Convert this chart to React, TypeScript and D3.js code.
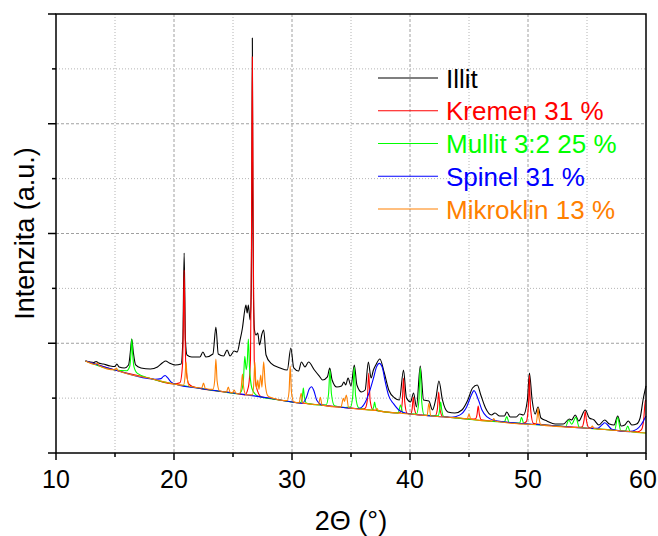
import React from "react";
import * as d3 from "d3";

const xMajorTicks = [10, 20, 30, 40, 50, 60];
const xMinorTicks = [15, 25, 35, 45, 55];
const yMajorTicks = [0, 1000, 2000, 3000, 4000];
const yMinorTicks = [500, 1500, 2500, 3500];

const illit: [number, number][] = [
  [12.5, 838], [13.2, 825], [13.4, 834], [13.6, 820], [14.0, 811], [14.6, 793], [15.0, 788], [15.15, 811], [15.35, 784],
  [15.8, 775], [16.15, 802], [16.3, 920], [16.42, 1039], [16.55, 920], [16.75, 802], [17.2, 775], [18.0, 765], [18.6, 784],
  [19.0, 820], [19.3, 838], [19.6, 820], [20.1, 802], [20.6, 811], [20.75, 1030], [20.86, 1823], [20.97, 1030], [21.1, 893],
  [21.5, 875], [22.2, 875], [22.45, 920], [22.7, 875], [23.3, 902], [23.55, 1148], [23.75, 902], [24.2, 884], [24.5, 939],
  [24.75, 884], [25.1, 929], [25.35, 920], [25.6, 1030], [25.8, 1139], [26.0, 1303], [26.1, 1349], [26.2, 1276], [26.3, 1349],
  [26.45, 1212], [26.55, 1500], [26.6, 2400], [26.64, 3781], [26.68, 2400], [26.74, 1400], [26.82, 1121], [26.95, 1075],
  [27.1, 1093], [27.25, 984], [27.45, 1084], [27.6, 1121], [27.8, 893], [28.2, 820], [29.0, 775], [29.6, 756], [29.9, 957],
  [30.15, 775], [30.55, 747], [30.8, 829], [31.1, 784], [31.4, 829], [31.9, 756], [32.3, 702], [32.6, 665], [33.0, 693],
  [33.2, 775], [33.4, 665], [33.8, 601], [34.2, 611], [34.4, 647], [34.55, 620], [34.75, 683], [35.0, 611], [35.28, 802],
  [35.5, 620], [35.9, 556], [36.2, 574], [36.47, 829], [36.7, 683], [36.9, 756], [37.1, 802], [37.45, 857], [37.8, 738],
  [38.2, 574], [38.7, 501], [39.1, 483], [39.45, 756], [39.7, 501], [40.05, 465], [40.3, 547], [40.55, 419], [40.87, 793],
  [41.15, 483], [41.6, 474], [41.9, 392], [42.2, 501], [42.45, 656], [42.75, 483], [43.2, 374], [43.8, 364], [44.4, 392],
  [44.9, 483], [45.3, 592], [45.7, 620], [46.0, 528], [46.4, 410], [46.9, 346], [47.2, 364], [47.6, 337], [48.0, 337],
  [48.2, 374], [48.5, 328], [49.0, 328], [49.3, 355], [49.6, 346], [49.95, 483], [50.12, 729], [50.35, 483], [50.6, 355],
  [50.85, 419], [51.1, 319], [51.6, 292], [52.3, 264], [53.0, 264], [53.5, 310], [53.7, 301], [54.0, 346], [54.3, 292],
  [54.85, 392], [55.2, 319], [55.6, 301], [56.0, 255], [56.5, 301], [56.9, 264], [57.3, 255], [57.6, 337], [57.9, 246],
  [58.2, 255], [58.5, 292], [58.8, 255], [59.2, 264], [59.5, 319], [59.75, 483], [60.0, 611],
];

const kremen: [number, number][] = [
  [12.5, 838], [15, 756], [18, 679], [20, 629], [20.5, 640], [20.72, 800], [20.79, 1140], [20.86, 1667], [20.93, 1140],
  [21.0, 800], [21.25, 630], [21.6, 605], [23, 574], [25, 547], [26, 529], [26.3, 600], [26.48, 850], [26.56, 1800],
  [26.64, 3611], [26.72, 1800], [26.8, 850], [26.98, 600], [27.4, 512], [28, 501], [30, 465], [32, 442], [34, 419],
  [36, 402], [36.2, 408], [36.38, 480], [36.5, 729], [36.62, 480], [36.85, 395], [38, 374], [39, 364], [39.2, 372],
  [39.35, 470], [39.45, 683], [39.55, 470], [39.75, 362], [40.05, 356], [40.18, 400], [40.28, 510], [40.38, 400],
  [40.6, 348], [41.5, 341], [42.15, 342], [42.32, 400], [42.43, 556], [42.54, 400], [42.75, 335], [44, 319], [45.3, 310],
  [45.55, 312], [45.68, 350], [45.78, 428], [45.88, 350], [46.05, 303], [48, 282], [49.5, 268], [49.85, 285], [50.0, 380],
  [50.07, 520], [50.12, 711], [50.17, 520], [50.24, 380], [50.45, 270], [52, 251], [54.3, 235], [54.6, 240], [54.75, 300],
  [54.85, 378], [54.95, 300], [55.15, 232], [57, 210], [59.3, 194], [59.6, 210], [59.8, 300], [59.95, 483], [60, 470],
];

const mullit: [number, number][] = [
  [12.5, 838], [15, 756], [16.0, 750], [16.25, 790], [16.35, 900], [16.42, 1039], [16.5, 900], [16.6, 790], [16.9, 725],
  [18, 679], [20, 629], [22, 592], [24, 560], [25.5, 540], [25.7, 560], [25.88, 660], [26.0, 880], [26.12, 760],
  [26.22, 850], [26.3, 1039], [26.4, 780], [26.6, 590], [26.9, 535], [27.2, 515], [29, 483], [30.5, 458], [30.7, 458],
  [30.88, 510], [30.96, 592], [31.05, 510], [31.25, 452], [32.5, 437], [32.9, 440], [33.1, 540], [33.22, 756],
  [33.34, 540], [33.6, 430], [34.5, 415], [34.95, 418], [35.15, 520], [35.27, 784], [35.39, 520], [35.65, 410],
  [36.5, 393], [36.8, 392], [36.92, 420], [37.0, 465], [37.08, 420], [37.25, 386], [39.0, 366], [39.2, 437], [39.4, 362],
  [40.55, 355], [40.75, 470], [40.87, 775], [40.99, 470], [41.2, 345], [42.4, 340], [42.52, 400], [42.6, 465],
  [42.68, 400], [42.85, 333], [44, 319], [48.0, 284], [48.2, 331], [48.4, 278], [49.3, 272], [49.45, 325], [49.65, 267],
  [52, 251], [53.2, 242], [53.45, 301], [53.7, 262], [54.05, 325], [54.35, 234], [56.5, 215], [57.35, 210], [57.6, 325],
  [57.85, 205], [58.25, 199], [58.45, 246], [58.65, 196], [60, 182],
];

const spinel: [number, number][] = [
  [12.5, 838], [15, 756], [18.4, 672], [18.9, 678], [19.1, 698], [19.25, 706], [19.45, 686], [19.8, 642], [20.3, 622],
  [22, 592], [25, 547], [28, 501], [30, 465], [30.8, 453], [31.2, 500], [31.45, 580], [31.65, 604], [31.85, 570],
  [32.1, 480], [32.5, 440], [34, 419], [35.5, 405], [35.8, 410], [36.2, 460], [36.6, 570], [36.9, 680], [37.15, 780],
  [37.4, 817], [37.65, 780], [37.9, 650], [38.2, 520], [38.6, 450], [39.2, 380], [39.8, 360], [41, 346], [43, 328],
  [43.5, 325], [44.2, 345], [44.8, 420], [45.2, 528], [45.42, 568], [45.8, 483], [46.1, 392], [46.5, 331], [47.2, 295],
  [49, 273], [52, 251], [55.5, 224], [55.9, 225], [56.3, 260], [56.5, 276], [56.75, 255], [57.1, 215], [58.6, 195],
  [59.2, 215], [59.6, 260], [60, 337],
];

const mikroklin: [number, number][] = [
  [12.5, 838], [13.35, 806], [13.5, 820], [13.65, 796], [15.0, 758], [15.12, 775], [15.25, 752], [18, 679], [20, 629],
  [20.8, 618], [20.93, 690], [21.02, 829], [21.11, 690], [21.3, 608], [22.35, 592], [22.5, 638], [22.65, 588],
  [23.3, 580], [23.45, 660], [23.55, 857], [23.65, 660], [23.85, 568], [24.45, 557], [24.6, 601], [24.75, 553],
  [24.95, 548], [25.1, 574], [25.25, 545], [25.55, 540], [25.7, 600], [25.8, 720], [25.9, 600], [26.1, 530],
  [26.65, 530], [26.77, 650], [26.85, 832], [26.93, 650], [27.0, 590], [27.1, 665], [27.2, 580], [27.35, 711],
  [27.45, 600], [27.6, 832], [27.72, 640], [27.95, 520], [28.4, 498], [29.3, 478], [29.6, 478], [29.75, 560],
  [29.85, 793], [29.95, 560], [30.15, 466], [30.6, 458], [30.78, 545], [30.9, 458], [32.25, 440], [32.4, 508],
  [32.55, 436], [34.15, 418], [34.35, 498], [34.45, 470], [34.6, 528], [34.8, 412], [36.5, 393], [37.05, 387],
  [37.2, 405], [37.35, 384], [39, 364], [41.3, 343], [41.45, 342], [41.6, 453], [41.75, 339], [43, 328], [44.8, 312],
  [44.85, 311], [45.0, 355], [45.15, 309], [46.95, 290], [47.1, 315], [47.25, 289], [50.5, 260], [50.65, 261],
  [50.78, 330], [50.85, 410], [50.92, 330], [51.1, 256], [54, 232], [55.3, 226], [55.45, 245], [55.6, 224], [57, 210],
  [60, 182],
];

const seriesNames = ["Illit", "Kremen 31 %", "Mullit 3:2 25 %", "Spinel 31 %", "Mikroklin 13 %"];
const seriesColors = ["#000000", "#ff0000", "#00ff00", "#0000ff", "#ff8000"];
const seriesData = [illit, kremen, mullit, spinel, mikroklin];

const W = 658;
const H = 536;
const M = { left: 56, right: 646, top: 14, bottom: 453 };
const FONT = "'Liberation Sans', Arial, Helvetica, sans-serif";

export default function App() {
  const x = d3.scaleLinear().domain([10, 60]).range([M.left, M.right]);
  const y = d3.scaleLinear().domain([0, 4000]).range([M.bottom, M.top]);
  const line = d3
    .line<[number, number]>()
    .x((d) => x(d[0]))
    .y((d) => y(d[1]))
    .curve(d3.curveMonotoneX);

  const legendX0 = 378;
  const legendX1 = 438;
  const legendTextX = 446;
  const legendY0 = 78;
  const legendStep = 32.75;

  return (
    <svg
      width={W}
      height={H}
      style={{ position: "absolute", left: 0, top: 0, background: "#fff" }}
      fontFamily={FONT}
    >
      <rect x={0} y={0} width={W} height={H} fill="#fff" />
      {/* grid */}
      {xMinorTicks.map((t) => (
        <line key={"gxm" + t} x1={x(t)} x2={x(t)} y1={M.top} y2={M.bottom} stroke="#b4b4b4" strokeWidth={1} strokeDasharray="1,2" />
      ))}
      {xMajorTicks.slice(1, -1).map((t) => (
        <line key={"gx" + t} x1={x(t)} x2={x(t)} y1={M.top} y2={M.bottom} stroke="#a0a0a0" strokeWidth={1} strokeDasharray="3,2" />
      ))}
      {yMinorTicks.map((t) => (
        <line key={"gym" + t} x1={M.left} x2={M.right} y1={y(t)} y2={y(t)} stroke="#b4b4b4" strokeWidth={1} strokeDasharray="1,2" />
      ))}
      {yMajorTicks.slice(1, -1).map((t) => (
        <line key={"gy" + t} x1={M.left} x2={M.right} y1={y(t)} y2={y(t)} stroke="#a0a0a0" strokeWidth={1} strokeDasharray="3,2" />
      ))}

      {/* series */}
      {seriesData.map((d, i) => (
        <path key={"s" + i} d={line(d) || ""} fill="none" stroke={seriesColors[i]} strokeWidth={1.1} strokeLinejoin="round" />
      ))}

      {/* frame */}
      <rect x={M.left} y={M.top} width={M.right - M.left} height={M.bottom - M.top} fill="none" stroke="#000" strokeWidth={1.5} />

      {/* x ticks */}
      {xMajorTicks.map((t) => (
        <g key={"xt" + t}>
          <line x1={x(t)} x2={x(t)} y1={M.bottom} y2={M.bottom + 7} stroke="#000" strokeWidth={1.5} />
          <text x={Math.min(x(t), 643)} y={488} textAnchor="middle" fontSize={25} fill="#000">
            {t}
          </text>
        </g>
      ))}
      {xMinorTicks.map((t) => (
        <line key={"xmt" + t} x1={x(t)} x2={x(t)} y1={M.bottom} y2={M.bottom + 4} stroke="#000" strokeWidth={1.5} />
      ))}
      {/* y ticks */}
      {yMajorTicks.map((t) => (
        <line key={"yt" + t} x1={M.left - 8} x2={M.left} y1={y(t)} y2={y(t)} stroke="#000" strokeWidth={1.5} />
      ))}
      {yMinorTicks.map((t) => (
        <line key={"ymt" + t} x1={M.left - 4} x2={M.left} y1={y(t)} y2={y(t)} stroke="#000" strokeWidth={1.5} />
      ))}

      {/* axis titles */}
      <text x={(M.left + M.right) / 2} y={530} textAnchor="middle" fontSize={27} fill="#000">
        2Θ (°)
      </text>
      <text
        transform={`translate(34, ${(M.top + M.bottom) / 2}) rotate(-90)`}
        textAnchor="middle"
        fontSize={27}
        fill="#000"
      >
        Intenzita (a.u.)
      </text>

      {/* legend */}
      {seriesNames.map((name, i) => {
        const ly = legendY0 + i * legendStep;
        return (
          <g key={"lg" + i}>
            <line x1={legendX0} x2={legendX1} y1={ly} y2={ly} stroke={seriesColors[i]} strokeWidth={1.2} />
            <text x={legendTextX} y={ly + 9.5} fontSize={26} fill={seriesColors[i]}>
              {name}
            </text>
          </g>
        );
      })}
    </svg>
  );
}
